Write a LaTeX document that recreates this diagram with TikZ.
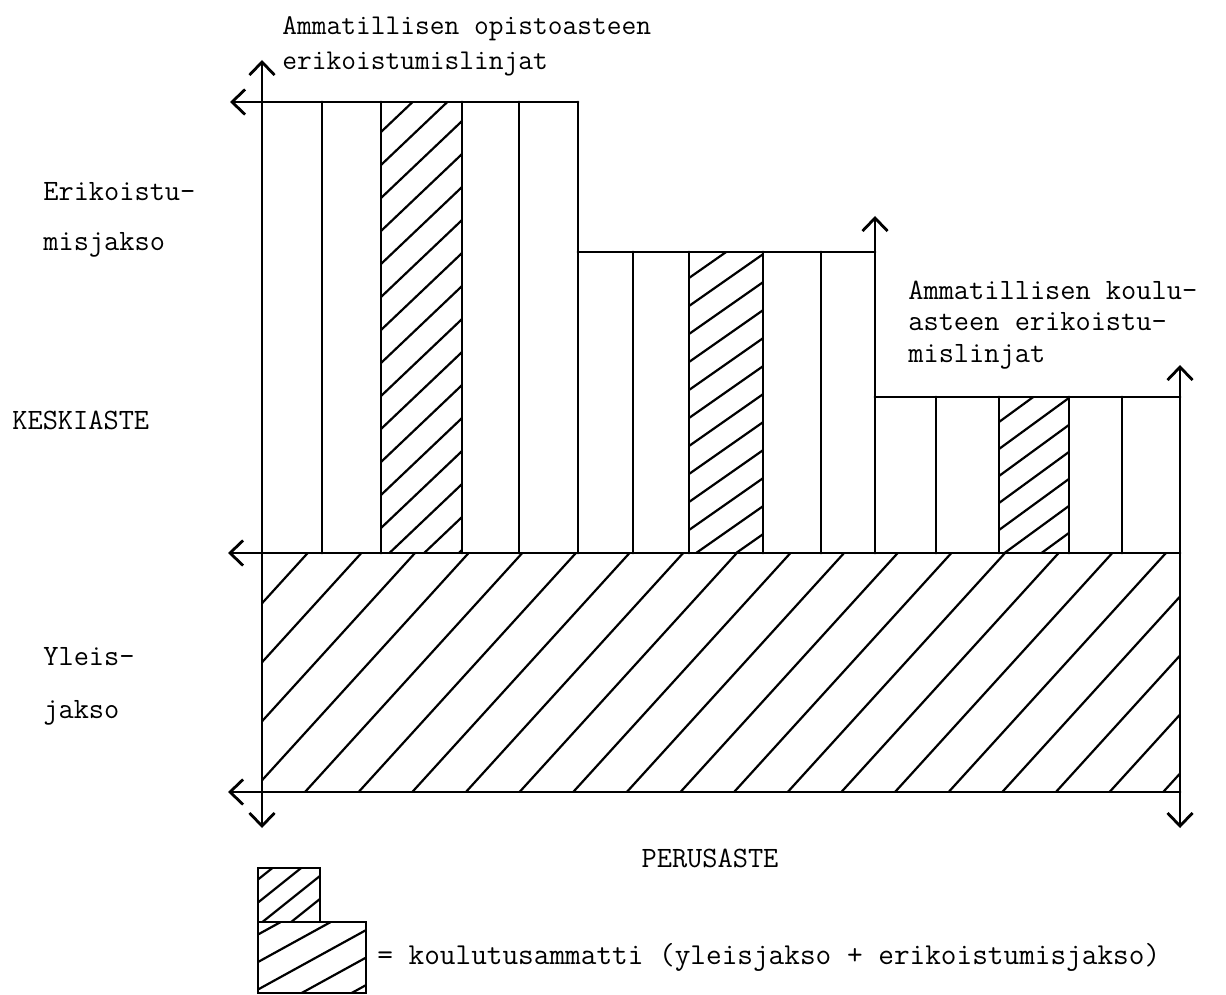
\documentclass[tikz,border=0pt]{standalone}
\usepackage{tikz}
\usetikzlibrary{arrows.meta}
\tikzset{
  >={Straight Barb[length=2.6mm,width=5mm]},
  rule/.style={line width=1.6pt,line cap=round},
  hatch/.style={line width=1.25pt},
  typed/.style={font=\ttfamily\fontsize{16.8}{#1}\selectfont,align=left,inner sep=0pt,anchor=west},
  typed/.default=20pt,
}
% hatching of a box: x1,y1,x2,y2,slope,spacing,left intercept
\newcommand\hatchcol[7]{%
  \begin{scope}
    \clip (#1,#2) rectangle (#3,#4);
    \foreach \k in {-30,...,30}
      \draw[hatch] (#1,{#7+\k*#6}) -- ++({#3-#1},{(#3-#1)*#5});
  \end{scope}}

\begin{document}
\begin{tikzpicture}
  \useasboundingbox (-5.24,-4.04) rectangle (19.28,15.84);
  % hatched parts
  \hatchcol{0}{0}{18.36}{4.78}{1.1}{1.18}{-0.946}
  \hatchcol{2.38}{4.78}{4.0}{13.8}{0.95}{0.66}{13.2}
  \hatchcol{8.54}{4.78}{10.02}{10.8}{0.7}{0.56}{10.28}
  \hatchcol{14.74}{4.78}{16.14}{7.9}{0.73}{0.54}{7.4}
  \hatchcol{-0.08}{-2.6}{1.16}{-1.52}{0.8}{0.46}{-1.75}
  \hatchcol{-0.08}{-4.02}{2.08}{-2.6}{0.55}{0.55}{-2.85}
  % axes and levels
  \draw[rule,<->] (0,-0.72) -- (0,14.64);
  \draw[rule,->] (6.32,13.8) -- (-0.64,13.8);
  \draw[rule] (6.32,10.8) -- (12.26,10.8);
  \draw[rule,->] (12.26,4.78) -- (12.26,11.52);
  \draw[rule] (12.26,7.9) -- (18.36,7.9);
  \draw[rule,<->] (18.36,-0.72) -- (18.36,8.54);
  \draw[rule,->] (18.36,4.78) -- (-0.68,4.78);
  \draw[rule,->] (18.36,0) -- (-0.68,0);
  % column dividers
  \foreach \x/\t in {1.2/13.8,2.38/13.8,4.0/13.8,5.14/13.8,6.32/13.8,
                     7.42/10.8,8.54/10.8,10.02/10.8,11.18/10.8,
                     13.48/7.9,14.74/7.9,16.14/7.9,17.2/7.9}
    \draw[rule] (\x,4.78) -- (\x,\t);
  % legend
  \draw[rule] (-0.08,-2.6) rectangle (1.16,-1.52);
  \draw[rule] (-0.08,-4.02) rectangle (2.08,-2.6);
  % texts
  \node[typed=20pt,font=\ttfamily\fontsize{16.3}{20}\selectfont] (opisto) at (0.4,14.91) {Ammatillisen opistoasteen\\erikoistumislinjat};
  \node[typed=18pt] (koulu) at (12.92,9.34) {Ammatillisen koulu-\\asteen erikoistu-\\mislinjat};
  \node[typed=28.5pt] (erik) at (-4.38,11.44) {Erikoistu-\\misjakso};
  \node[typed] (keski) at (-5.0,7.44) {KESKIASTE};
  \node[typed=30pt] (yleis) at (-4.38,2.11) {Yleis-\\jakso};
  \node[typed,anchor=center] (perus) at (8.96,-1.32) {PERUSASTE};
  \node[typed,font=\ttfamily\fontsize{17.3}{20}\selectfont] (selite) at (2.3,-3.3) {= koulutusammatti (yleisjakso + erikoistumisjakso)};
\end{tikzpicture}
\end{document}
